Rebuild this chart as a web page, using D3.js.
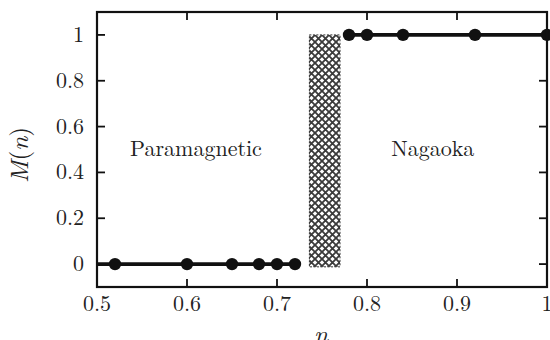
<!DOCTYPE html>
<html><head><meta charset="utf-8">
<script src="https://cdn.jsdelivr.net/npm/d3@7"></script>
<style>body{margin:0;background:#fff}svg{display:block}</style>
</head><body>
<script>
const paraN = [0.52, 0.60, 0.65, 0.68, 0.70, 0.72];
const paraM = [0, 0, 0, 0, 0, 0];
const nagN = [0.78, 0.80, 0.84, 0.92, 1.00];
const nagM = [1, 1, 1, 1, 1];
const band = [0.736, 0.77]; // transition region in n
const bandM = [-0.012, 1.0];
const xTicks = [0.5, 0.6, 0.7, 0.8, 0.9, 1.0];
const yTicks = [0, 0.2, 0.4, 0.6, 0.8, 1.0];
const labels = [{t:"Paramagnetic", n:0.61, m:0.5}, {t:"Nagaoka", n:0.873, m:0.5}];

const W=550,H=340, L=97, R=547, T=12, B=287;
const FF='"Latin Modern Roman", "Liberation Serif", serif';
const svg=d3.select("body").append("svg").attr("width",W).attr("height",H);
const x=d3.scaleLinear().domain([0.5,1.0]).range([L,R]);
const y=d3.scaleLinear().domain([-0.1,1.1]).range([B,T]);

const defs=svg.append("defs");
const P=7;
const pat=defs.append("pattern").attr("id","hatch").attr("patternUnits","userSpaceOnUse")
  .attr("width",P).attr("height",P);
pat.append("rect").attr("width",P).attr("height",P).attr("fill","#fff");
pat.append("path").attr("d",`M-1,-1L${P+1},${P+1}M-1,${P+1}L${P+1},-1`)
  .attr("stroke","#3a3a3a").attr("stroke-width",1.8);

// hatched band
svg.append("rect").attr("x",x(band[0])).attr("y",y(bandM[1]))
  .attr("width",x(band[1])-x(band[0])).attr("height",y(bandM[0])-y(bandM[1]))
  .attr("fill","url(#hatch)").attr("stroke","#333").attr("stroke-width",1).attr("stroke-dasharray","2,1.5");

// ticks (inside, all sides)
const tl=8;
const g=svg.append("g").attr("stroke","#111").attr("stroke-width",1.8);
xTicks.forEach(v=>{
  g.append("line").attr("x1",x(v)).attr("x2",x(v)).attr("y1",B).attr("y2",B-tl);
  g.append("line").attr("x1",x(v)).attr("x2",x(v)).attr("y1",T).attr("y2",T+tl);
});
yTicks.forEach(v=>{
  g.append("line").attr("x1",L).attr("x2",L+tl).attr("y1",y(v)).attr("y2",y(v));
  g.append("line").attr("x1",R).attr("x2",R-tl).attr("y1",y(v)).attr("y2",y(v));
});

// lines
const line=d3.line().x(d=>x(d[0])).y(d=>y(d[1]));
const para=paraN.map((n,i)=>[n,paraM[i]]);
const nag=nagN.map((n,i)=>[n,nagM[i]]);
[[ [0.5,0], ...para ], nag].forEach(d=>{
  svg.append("path").attr("d",line(d)).attr("fill","none").attr("stroke","#111").attr("stroke-width",3.6);
});
svg.append("g").selectAll("circle").data(para.concat(nag)).join("circle")
  .attr("cx",d=>x(d[0])).attr("cy",d=>y(d[1])).attr("r",6.2).attr("fill","#111");

// frame
svg.append("rect").attr("x",L).attr("y",T).attr("width",R-L).attr("height",B-T)
  .attr("fill","none").attr("stroke","#111").attr("stroke-width",2.2);

// tick labels
svg.append("g").selectAll("text").data(xTicks).join("text")
  .attr("x",d=>x(d)).attr("y",311).attr("text-anchor","middle")
  .style("font-family",FF).style("font-size","22px").attr("fill","#222")
  .text(d=>d===1?"1":d.toFixed(1));
svg.append("g").selectAll("text").data(yTicks).join("text")
  .attr("x",84).attr("y",d=>y(d)+7).attr("text-anchor","end")
  .style("font-family",FF).style("font-size","22px").attr("fill","#222")
  .text(d=>d===0?"0":d===1?"1":d.toFixed(1));

// region labels
svg.append("g").selectAll("text").data(labels).join("text")
  .attr("x",d=>x(d.n)).attr("y",d=>y(d.m)+6)
  .attr("text-anchor","middle")
  .style("font-family",FF).style("font-size","22px").attr("fill","#222").text(d=>d.t);

// axis titles
svg.append("text").attr("x",321).attr("y",343).attr("text-anchor","middle")
  .style("font-family",FF).style("font-style","italic").style("font-size","25px").attr("fill","#222").text("n");
svg.append("text").attr("transform","translate(28,155) rotate(-90)").attr("text-anchor","middle")
  .style("font-family",FF).style("font-size","25px").attr("fill","#222")
  .html("<tspan style='font-style:italic'>M</tspan>(<tspan style='font-style:italic'>n</tspan>)");
</script>
</body></html>
